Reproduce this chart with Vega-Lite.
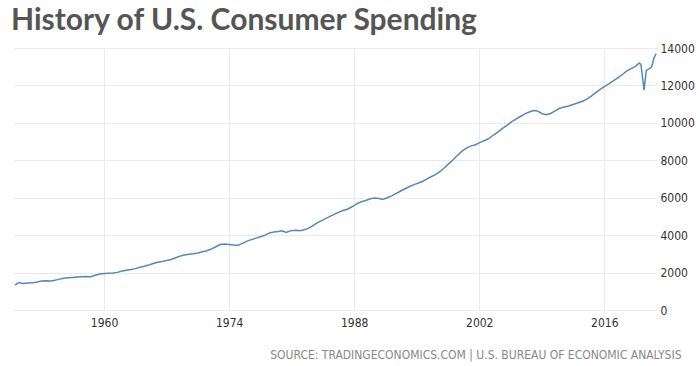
{
  "$schema": "https://vega.github.io/schema/vega-lite/v6.json",
  "width": 644,
  "height": 262,
  "autosize": {"type": "none"},
  "padding": {"left": 13, "top": 48, "right": 43, "bottom": 56},
  "background": "white",
  "title": {
    "text": "History of U.S. Consumer Spending",
    "anchor": "start",
    "frame": "group",
    "font": "Lato",
    "fontWeight": "bold",
    "fontSize": 30,
    "color": "#555555",
    "baseline": "alphabetic",
    "offset": 12,
    "dx": -2,
    "dy": 30
  },
  "config": {"view": {"stroke": null}},
  "data": {
    "values": [
      {"year": 1950.0, "value": 1340}, {"year": 1950.5, "value": 1470}, {"year": 1950.9, "value": 1420},
      {"year": 1951.5, "value": 1440}, {"year": 1952.0, "value": 1460}, {"year": 1952.5, "value": 1500},
      {"year": 1953.0, "value": 1550}, {"year": 1953.5, "value": 1560}, {"year": 1954.0, "value": 1555},
      {"year": 1954.5, "value": 1590}, {"year": 1955.0, "value": 1650}, {"year": 1955.5, "value": 1700},
      {"year": 1956.0, "value": 1720}, {"year": 1956.5, "value": 1740}, {"year": 1957.0, "value": 1760},
      {"year": 1957.5, "value": 1780}, {"year": 1958.0, "value": 1790}, {"year": 1958.4, "value": 1770},
      {"year": 1959.0, "value": 1860}, {"year": 1959.5, "value": 1920}, {"year": 1960.0, "value": 1950},
      {"year": 1960.5, "value": 1970}, {"year": 1961.0, "value": 1975}, {"year": 1961.5, "value": 2010},
      {"year": 1962.0, "value": 2080}, {"year": 1962.5, "value": 2120}, {"year": 1963.0, "value": 2160},
      {"year": 1963.5, "value": 2210}, {"year": 1964.0, "value": 2280}, {"year": 1964.5, "value": 2340},
      {"year": 1965.0, "value": 2400}, {"year": 1965.5, "value": 2480}, {"year": 1966.0, "value": 2550},
      {"year": 1966.5, "value": 2590}, {"year": 1967.0, "value": 2640}, {"year": 1967.5, "value": 2700},
      {"year": 1968.0, "value": 2790}, {"year": 1968.5, "value": 2880}, {"year": 1969.0, "value": 2940},
      {"year": 1969.5, "value": 2980}, {"year": 1970.0, "value": 3010}, {"year": 1970.5, "value": 3050},
      {"year": 1971.0, "value": 3110}, {"year": 1971.5, "value": 3170}, {"year": 1972.0, "value": 3260},
      {"year": 1972.5, "value": 3380}, {"year": 1973.0, "value": 3500}, {"year": 1973.5, "value": 3520},
      {"year": 1974.0, "value": 3500}, {"year": 1974.5, "value": 3470}, {"year": 1974.9, "value": 3450},
      {"year": 1975.5, "value": 3560}, {"year": 1976.0, "value": 3680}, {"year": 1976.5, "value": 3760},
      {"year": 1977.0, "value": 3840}, {"year": 1977.5, "value": 3910}, {"year": 1978.0, "value": 3990},
      {"year": 1978.5, "value": 4120}, {"year": 1979.0, "value": 4170}, {"year": 1979.5, "value": 4200},
      {"year": 1979.9, "value": 4230}, {"year": 1980.4, "value": 4140}, {"year": 1980.9, "value": 4240},
      {"year": 1981.5, "value": 4260}, {"year": 1981.9, "value": 4240}, {"year": 1982.4, "value": 4290},
      {"year": 1982.8, "value": 4350}, {"year": 1983.3, "value": 4480}, {"year": 1983.8, "value": 4640},
      {"year": 1984.3, "value": 4760}, {"year": 1984.8, "value": 4880}, {"year": 1985.3, "value": 5000},
      {"year": 1985.8, "value": 5120}, {"year": 1986.3, "value": 5230}, {"year": 1986.8, "value": 5330},
      {"year": 1987.3, "value": 5400}, {"year": 1987.8, "value": 5530}, {"year": 1988.3, "value": 5680},
      {"year": 1988.8, "value": 5780}, {"year": 1989.3, "value": 5850}, {"year": 1989.8, "value": 5940},
      {"year": 1990.3, "value": 5990}, {"year": 1990.8, "value": 5960}, {"year": 1991.2, "value": 5910},
      {"year": 1991.7, "value": 6000}, {"year": 1992.2, "value": 6100}, {"year": 1992.7, "value": 6230},
      {"year": 1993.2, "value": 6360}, {"year": 1993.7, "value": 6480}, {"year": 1994.2, "value": 6600},
      {"year": 1994.7, "value": 6700}, {"year": 1995.2, "value": 6790}, {"year": 1995.7, "value": 6880},
      {"year": 1996.1, "value": 6990}, {"year": 1996.6, "value": 7120}, {"year": 1997.1, "value": 7230},
      {"year": 1997.6, "value": 7390}, {"year": 1998.1, "value": 7600}, {"year": 1998.6, "value": 7820},
      {"year": 1999.1, "value": 8040}, {"year": 1999.6, "value": 8280}, {"year": 2000.1, "value": 8500},
      {"year": 2000.6, "value": 8660}, {"year": 2001.1, "value": 8770}, {"year": 2001.6, "value": 8830},
      {"year": 2002.1, "value": 8960}, {"year": 2002.6, "value": 9060}, {"year": 2003.1, "value": 9170},
      {"year": 2003.6, "value": 9350}, {"year": 2004.1, "value": 9520}, {"year": 2004.6, "value": 9700},
      {"year": 2005.1, "value": 9870}, {"year": 2005.6, "value": 10050}, {"year": 2006.1, "value": 10200},
      {"year": 2006.6, "value": 10340}, {"year": 2007.1, "value": 10480}, {"year": 2007.6, "value": 10580},
      {"year": 2008.1, "value": 10660}, {"year": 2008.5, "value": 10640}, {"year": 2009.0, "value": 10500},
      {"year": 2009.5, "value": 10430}, {"year": 2010.0, "value": 10500}, {"year": 2010.5, "value": 10640},
      {"year": 2011.0, "value": 10780}, {"year": 2011.5, "value": 10850}, {"year": 2012.0, "value": 10900},
      {"year": 2012.5, "value": 10980}, {"year": 2013.0, "value": 11060}, {"year": 2013.5, "value": 11140},
      {"year": 2014.0, "value": 11250}, {"year": 2014.5, "value": 11420}, {"year": 2015.0, "value": 11600},
      {"year": 2015.5, "value": 11780}, {"year": 2016.0, "value": 11940}, {"year": 2016.5, "value": 12080},
      {"year": 2017.0, "value": 12240}, {"year": 2017.5, "value": 12400}, {"year": 2018.0, "value": 12570},
      {"year": 2018.5, "value": 12760}, {"year": 2019.0, "value": 12900}, {"year": 2019.5, "value": 13020},
      {"year": 2019.9, "value": 13200}, {"year": 2020.1, "value": 13120}, {"year": 2020.45, "value": 11750},
      {"year": 2020.7, "value": 12800}, {"year": 2021.0, "value": 12880}, {"year": 2021.3, "value": 13000},
      {"year": 2021.55, "value": 13450}, {"year": 2021.8, "value": 13700}
    ]
  },
  "mark": {"type": "line", "color": "#5588bd", "strokeWidth": 1.5},
  "encoding": {
    "x": {
      "field": "year",
      "type": "quantitative",
      "scale": {"domain": [1949.8, 2021.9], "nice": false, "zero": false},
      "axis": {
        "values": [1960, 1974, 1988, 2002, 2016],
        "format": "d",
        "labelFont": "DejaVu Sans Condensed",
        "labelFontSize": 12,
        "labelColor": "#333333",
        "labelPadding": 7,
        "labelFlush": false,
        "domain": false,
        "ticks": false,
        "grid": true,
        "gridColor": "#ebebeb",
        "gridWidth": 1,
        "title": "SOURCE: TRADINGECONOMICS.COM | U.S. BUREAU OF ECONOMIC ANALYSIS",
        "titleFont": "DejaVu Sans Condensed",
        "titleFontSize": 12,
        "titleFontWeight": "normal",
        "titleColor": "#888888",
        "titleAnchor": "end",
        "titleAlign": "right",
        "titleBaseline": "alphabetic",
        "titleX": 668,
        "titleY": 48
      }
    },
    "y": {
      "field": "value",
      "type": "quantitative",
      "scale": {"domain": [0, 14000], "nice": false},
      "axis": {
        "orient": "right",
        "values": [0, 2000, 4000, 6000, 8000, 10000, 12000, 14000],
        "format": "d",
        "labelFont": "DejaVu Sans Condensed",
        "labelFontSize": 12,
        "labelColor": "#333333",
        "labelPadding": 3,
        "domain": false,
        "ticks": false,
        "grid": true,
        "gridColor": "#ebebeb",
        "gridWidth": 1,
        "title": null
      }
    }
  }
}
